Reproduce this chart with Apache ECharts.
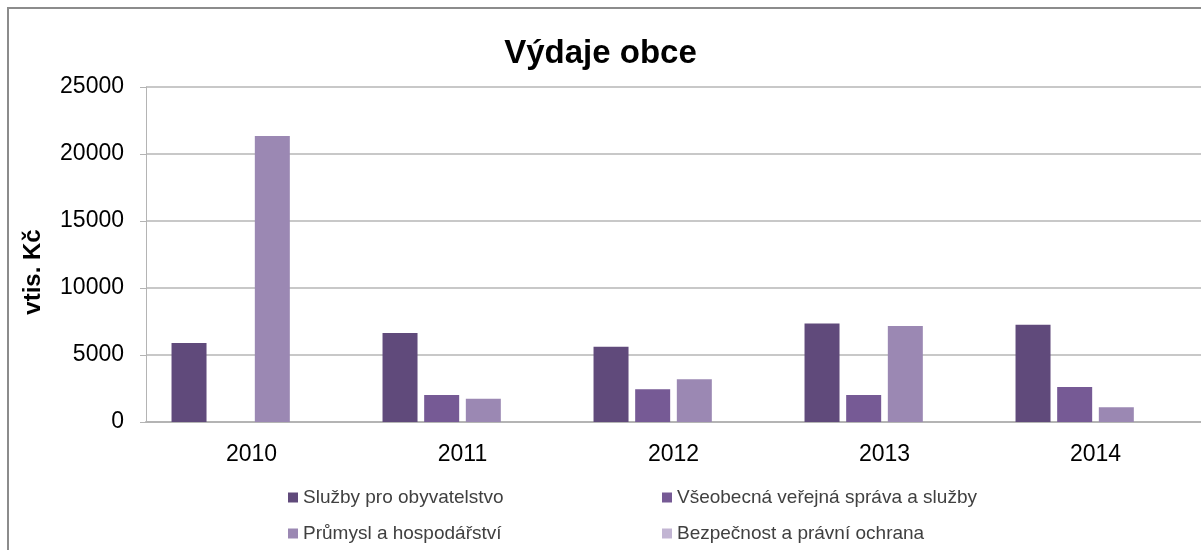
<!DOCTYPE html>
<html>
<head>
<meta charset="utf-8">
<script src="https://cdn.jsdelivr.net/npm/echarts@6/dist/echarts.min.js"></script>
<style>
  html, body { margin: 0; padding: 0; background: #fff; }
  #main { width: 1201px; height: 550px; }
</style>
</head>
<body>
<div id="main"></div>
<script>
var years = ['2010', '2011', '2012', '2013', '2014'];
var sluzby = [5900, 6650, 5620, 7350, 7260];
var sprava = [0, 2020, 2440, 2020, 2610];
var prumysl = [21340, 1740, 3190, 7160, 1100];
var bezpecnost = [0, 0, 0, 0, 0];
var yTicks = [0, 5000, 10000, 15000, 20000, 25000];

var names = ['Služby pro obyvatelstvo', 'Všeobecná veřejná správa a služby',
             'Průmysl a hospodářství', 'Bezpečnost a právní ochrana'];
var colors = ['#604a7b', '#765a95', '#9b88b3', '#c2b5d3'];
var values = [sluzby, sprava, prumysl, bezpecnost];

var myChart = echarts.init(document.getElementById('main'));

var series = names.map(function (n, i) {
    return {
        name: n,
        type: 'bar',
        data: values[i],
        barWidth: 35,
        barGap: '19%',
        itemStyle: { color: colors[i] },
        emphasis: { disabled: true }
    };
});

var legendStyle = {
    orient: 'vertical',
    top: 483,
    itemWidth: 10,
    itemHeight: 10,
    itemGap: 17,
    icon: 'rect',
    textStyle: { fontFamily: 'Liberation Sans', fontSize: 19, color: '#404040' }
};

var option = {
    animation: false,
    textStyle: { fontFamily: 'Liberation Sans' },
    graphic: [{
        type: 'rect',
        shape: { x: 8, y: 8, width: 1220, height: 560 },
        style: { fill: null, stroke: '#8c8c8c', lineWidth: 2 },
        silent: true
    }, {
        // osa Y - popisek
        type: 'text',
        x: 33,
        y: 272,
        rotation: Math.PI / 2,
        style: {
            text: 'vtis. Kč',
            fontFamily: 'Liberation Sans',
            fontSize: 24,
            fontWeight: 'bold',
            fill: '#000',
            align: 'center',
            verticalAlign: 'middle'
        },
        silent: true
    }],
    title: {
        text: 'Výdaje obce',
        left: 'center',
        top: 32,
        textStyle: { fontFamily: 'Liberation Sans', fontSize: 33, fontWeight: 'bold', color: '#000' }
    },
    legend: [
        Object.assign({ left: 283, data: [names[0], names[2]] }, legendStyle),
        Object.assign({ left: 657, data: [names[1], names[3]] }, legendStyle)
    ],
    grid: { left: 146, top: 87, width: 1060, height: 335 },
    xAxis: {
        type: 'category',
        data: years,
        axisLine: { lineStyle: { color: '#b4b4b4', width: 2 } },
        axisTick: { show: false },
        axisLabel: { fontSize: 23, color: '#000', margin: 21 }
    },
    yAxis: {
        type: 'value',
        min: yTicks[0],
        max: yTicks[yTicks.length - 1],
        interval: 5000,
        axisLine: { show: true, lineStyle: { color: '#b4b4b4', width: 1 } },
        axisTick: { show: true, length: 6, lineStyle: { color: '#b4b4b4' } },
        axisLabel: { fontSize: 23, color: '#000', margin: 22, formatter: function (v) { return String(v); } },
        splitLine: { lineStyle: { color: '#c8c8c8', width: 2 } }
    },
    series: series
};

myChart.setOption(option);
</script>
</body>
</html>
